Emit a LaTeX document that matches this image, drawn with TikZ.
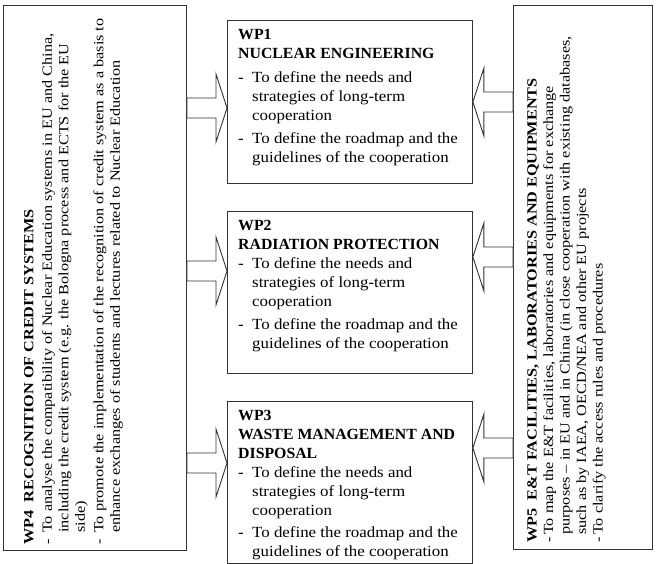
\documentclass[tikz,border=0pt]{standalone}
\usepackage{fontspec}
\setmainfont{Liberation Serif}
\newfontfamily\boxfont[FakeStretch=1.09]{Liberation Serif}
\newfontfamily\headfont[FakeStretch=1.02]{Liberation Serif}
\newfontfamily\sidefont[FakeStretch=1.16]{Liberation Serif}
\usetikzlibrary{calc}
\newcommand\bdash[1]{\makebox[#1][l]{-}}
\newcommand\cind[1]{\makebox[#1]{}}
\newcommand\hd[1]{{\headfont\bfseries #1}}
\newcommand\flowarrow[4]{%
  \draw[barrow] ($(#1 |- 0,#3)+(0,-10)$) -- ($(#2 |- 0,#3)+(#4,-10)$) -- ($(#2 |- 0,#3)+(#4,-34)$)
    -- (#2 |- 0,#3) -- ($(#2 |- 0,#3)+(#4,34)$) -- ($(#2 |- 0,#3)+(#4,10)$)
    -- ($(#1 |- 0,#3)+(0,10)$) -- cycle;}
\begin{document}
\begin{tikzpicture}[x=1pt,y=-1pt,
  frame/.style={draw=black!80, line width=0.9pt, inner sep=0pt, anchor=north west},
  barrow/.style={draw=black!80, fill=white, line width=0.9pt, line join=miter},
  boxtext/.style={anchor=north west, align=left, inner sep=0pt, font=\fontsize{15.5}{19}\boxfont},
  sidetext/.style={rotate=90, anchor=north west, align=left, inner sep=0pt, font=\fontsize{14}{16.5}\sidefont}]
\useasboundingbox (0,0) rectangle (656,564);
\fill[white] (0,0) rectangle (656,564);
% panels
\node[frame, minimum width=183pt, minimum height=545pt] (wp4) at (3,5) {};
\node[frame, minimum width=139pt, minimum height=544pt] (wp5) at (513,5) {};
\node[frame, minimum width=245pt, minimum height=163pt] (wp1) at (227,20) {};
\node[frame, minimum width=245pt, minimum height=162pt] (wp2) at (227,211) {};
\node[frame, minimum width=245pt, minimum height=162pt] (wp3) at (227,401) {};
% box texts
\node[boxtext] (t1) at ($(wp1.north west)+(11,9)$) {%
\hd{WP1}\\
\hd{NUCLEAR ENGINEERING}\\[5pt]
\bdash{14pt}To define the needs and\\
\cind{14pt}strategies of long-term\\
\cind{14pt}cooperation\\[4pt]
\bdash{14pt}To define the roadmap and the\\
\cind{14pt}guidelines of the cooperation};
\node[boxtext] (t2) at ($(wp2.north west)+(11,9)$) {%
\hd{WP2}\\
\hd{RADIATION PROTECTION}\\
\bdash{14pt}To define the needs and\\
\cind{14pt}strategies of long-term\\
\cind{14pt}cooperation\\[4pt]
\bdash{14pt}To define the roadmap and the\\
\cind{14pt}guidelines of the cooperation};
\node[boxtext] (t3) at ($(wp3.north west)+(11,9)$) {%
\hd{WP3}\\
\hd{WASTE MANAGEMENT AND}\\
\hd{DISPOSAL}\\
\bdash{14pt}To define the needs and\\
\cind{14pt}strategies of long-term\\
\cind{14pt}cooperation\\[3pt]
\bdash{14pt}To define the roadmap and the\\
\cind{14pt}guidelines of the cooperation};
% side texts
\node[sidetext] (t4) at (24,545) {%
\textbf{WP4\hspace{0.6em}RECOGNITION OF CREDIT SYSTEMS}\\[2pt]
\bdash{12pt}To analyse the compatibility of Nuclear Education systems in EU and China,\\
\cind{12pt}including the credit system (e.g. the Bologna process and ECTS for the EU\\
\cind{12pt}side)\\[2pt]
\bdash{12pt}To promote the implementation of the recognition of credit system as a basis to\\
\cind{12pt}enhance exchanges of students and lectures related to Nuclear Education};
\node[sidetext] (t5) at (527,543) {%
\textbf{WP5\hspace{0.6em}E\&T FACILITIES, LABORATORIES AND EQUIPMENTS}\\
\bdash{8pt}To map the E\&T facilities, laboratories and equipments for exchange\\
\cind{8pt}purposes – in EU and in China (in close cooperation with existing databases,\\
\cind{8pt}such as by IAEA, OECD/NEA and other EU projects\\
\bdash{8pt}To clarify the access rules and procedures};
% arrows
\flowarrow{wp4.east}{wp1.west}{108}{-11}
\flowarrow{wp4.east}{wp2.west}{271}{-11}
\flowarrow{wp4.east}{wp3.west}{463}{-11}
\flowarrow{wp5.west}{wp1.east}{102}{11}
\flowarrow{wp5.west}{wp2.east}{257}{11}
\flowarrow{wp5.west}{wp3.east}{448}{11}
\end{tikzpicture}
\end{document}
